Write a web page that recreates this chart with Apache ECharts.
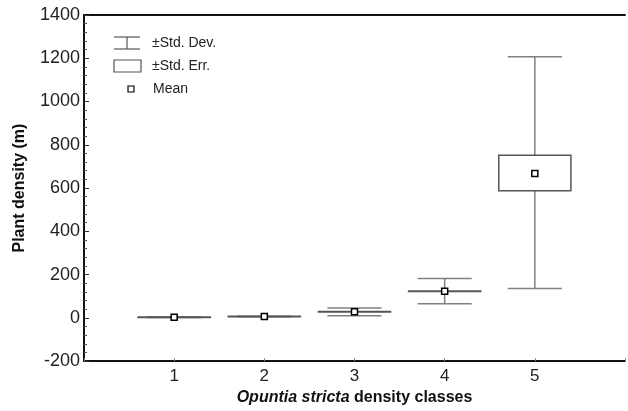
<!DOCTYPE html>
<html>
<head>
<meta charset="utf-8">
<script src="https://cdn.jsdelivr.net/npm/echarts@6/dist/echarts.min.js"></script>
<style>
  html, body { margin: 0; padding: 0; background: #fff; }
  #chart { width: 628px; height: 411px; }
</style>
</head>
<body>
<div id="chart"></div>
<script>
// density classes and their summary stats
var classes = [1, 2, 3, 4, 5];
var means = [3, 6, 28, 123, 667];
var seLow = [2, 5, 27, 122, 588];
var seHigh = [4, 7, 29, 124, 752];
var sdLow = [2, 5, 10, 65, 136];
var sdHigh = [4, 7, 45, 182, 1207];
var yTicks = [-200, 0, 200, 400, 600, 800, 1000, 1200, 1400];

var font = "Liberation Sans, Arial, sans-serif";
var gray = "#808080";

var chart = echarts.init(document.getElementById("chart"));

var data = classes.map(function (c, i) {
  return [c, means[i], seLow[i], seHigh[i], sdLow[i], sdHigh[i]];
});

function renderBox(params, api) {
  var x = api.value(0);
  var pMean = api.coord([x, api.value(1)]);
  var pSeLo = api.coord([x, api.value(2)]);
  var pSeHi = api.coord([x, api.value(3)]);
  var pSdLo = api.coord([x, api.value(4)]);
  var pSdHi = api.coord([x, api.value(5)]);
  var unit = api.size([1, 0])[0];
  var boxW = unit * 0.8;
  var capW = unit * 0.6;
  var cx = pMean[0];
  var lineStyle = { stroke: gray, lineWidth: 1.5, fill: null };
  var children = [
    { type: "line", shape: { x1: cx, y1: pSdHi[1], x2: cx, y2: pSeHi[1] }, style: lineStyle },
    { type: "line", shape: { x1: cx, y1: pSeLo[1], x2: cx, y2: pSdLo[1] }, style: lineStyle },
    { type: "line", shape: { x1: cx - capW / 2, y1: pSdHi[1], x2: cx + capW / 2, y2: pSdHi[1] }, style: lineStyle },
    { type: "line", shape: { x1: cx - capW / 2, y1: pSdLo[1], x2: cx + capW / 2, y2: pSdLo[1] }, style: lineStyle },
    {
      type: "rect",
      shape: { x: cx - boxW / 2, y: pSeHi[1], width: boxW, height: pSeLo[1] - pSeHi[1] },
      style: { stroke: "#555", lineWidth: 1.5, fill: "rgba(255,255,255,0)" }
    },
    {
      type: "rect",
      shape: { x: cx - 3, y: pMean[1] - 3, width: 6, height: 6 },
      style: { stroke: "#000", lineWidth: 1.5, fill: "#fff" }
    }
  ];
  return { type: "group", children: children };
}

chart.setOption({
  animation: false,
  backgroundColor: "#fff",
  grid: { left: 84, right: 0, top: 15, bottom: 48 },
  xAxis: [
    {
      type: "value",
      min: 0,
      max: 6,
      interval: 1,
      name: "{i|Opuntia stricta} density classes",
      nameLocation: "middle",
      nameGap: 21,
      nameTextStyle: {
        fontFamily: font,
        fontSize: 16,
        fontWeight: "bold",
        color: "#111",
        rich: {
          i: { fontFamily: font, fontSize: 16, fontWeight: "bold", fontStyle: "italic", color: "#111" }
        }
      },
      axisLine: { show: true, onZero: false, lineStyle: { color: "#111", width: 2 } },
      axisTick: { show: true, inside: true, length: 3, lineStyle: { color: "#888" } },
      axisLabel: {
        margin: 7,
        fontFamily: font,
        fontSize: 17,
        color: "#222",
        formatter: function (v) { return classes.indexOf(v) >= 0 ? String(v) : ""; }
      },
      splitLine: { show: false }
    },
    {
      type: "value",
      position: "top",
      min: 0,
      max: 6,
      axisLine: { show: true, onZero: false, lineStyle: { color: "#111", width: 2 } },
      axisTick: { show: false },
      axisLabel: { show: false },
      splitLine: { show: false }
    }
  ],
  yAxis: {
    type: "value",
    min: yTicks[0],
    max: yTicks[yTicks.length - 1],
    interval: 200,
    name: "Plant density (m)",
    nameLocation: "middle",
    nameGap: 56,
    nameTextStyle: { fontFamily: font, fontSize: 16, fontWeight: "bold", color: "#111" },
    axisLine: { show: true, onZero: false, lineStyle: { color: "#111", width: 2 } },
    axisTick: { show: true, inside: true, length: 5, lineStyle: { color: "#333" } },
    minorTick: { show: true, splitNumber: 5, length: 3, lineStyle: { color: "#555" } },
    axisLabel: {
      margin: 4,
      fontFamily: font,
      fontSize: 18,
      color: "#222",
      formatter: function (v) { return String(v); }
    },
    splitLine: { show: false }
  },
  graphic: [
    // legend: std dev whisker
    { type: "line", shape: { x1: 114, y1: 37, x2: 140, y2: 37 }, style: { stroke: "#555", lineWidth: 1.2 } },
    { type: "line", shape: { x1: 114, y1: 49, x2: 140, y2: 49 }, style: { stroke: "#555", lineWidth: 1.2 } },
    { type: "line", shape: { x1: 127, y1: 37, x2: 127, y2: 49 }, style: { stroke: "#555", lineWidth: 1.2 } },
    { type: "text", style: { x: 152, y: 43, text: "±Std. Dev.", textVerticalAlign: "middle", fontFamily: font, fontSize: 14, fill: "#222" } },
    // legend: std err box
    { type: "rect", shape: { x: 114, y: 60, width: 27, height: 12 }, style: { stroke: "#555", lineWidth: 1.2, fill: "#fff" } },
    { type: "text", style: { x: 152, y: 66, text: "±Std. Err.", textVerticalAlign: "middle", fontFamily: font, fontSize: 14, fill: "#222" } },
    // legend: mean
    { type: "rect", shape: { x: 128, y: 86, width: 6, height: 6 }, style: { stroke: "#000", lineWidth: 1.2, fill: "#fff" } },
    { type: "text", style: { x: 153, y: 89, text: "Mean", textVerticalAlign: "middle", fontFamily: font, fontSize: 14, fill: "#222" } }
  ],
  series: [
    {
      type: "custom",
      renderItem: renderBox,
      data: data,
      encode: { x: 0, y: [1, 2, 3, 4, 5] },
      clip: false
    }
  ]
});
</script>
</body>
</html>
